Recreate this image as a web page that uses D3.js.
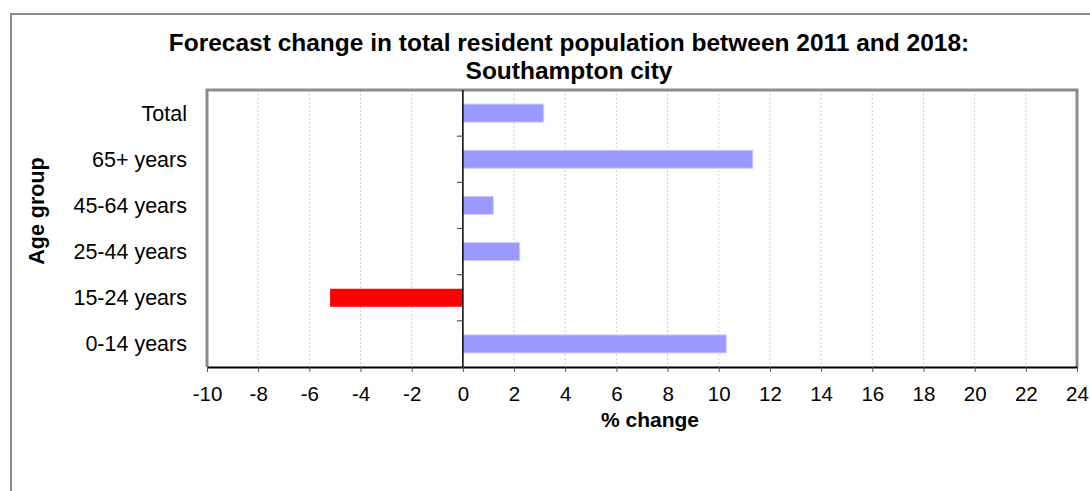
<!DOCTYPE html>
<meta charset="utf-8">
<style>
body { margin: 0; background: #fff; }
svg { font-family: "Liberation Sans", Arial, sans-serif; }
.grid line { stroke: #cfcfcf; stroke-dasharray: 2,2; }
.frame { fill: none; stroke: #8c8c8c; stroke-width: 2; }
.plot-box { fill: none; stroke: #8c8c8c; stroke-width: 3; }
</style>
<svg width="1090" height="491"></svg>
<script src="https://d3js.org/d3.v7.min.js"></script>
<script>

var categories = ["Total", "65+ years", "45-64 years", "25-44 years", "15-24 years", "0-14 years"];
var values = [3.16, 11.33, 1.19, 2.22, -5.19, 10.29];
var xTicks = [-10, -8, -6, -4, -2, 0, 2, 4, 6, 8, 10, 12, 14, 16, 18, 20, 22, 24];
var titleLines = ["Forecast change in total resident population between 2011 and 2018:", "Southampton city"];

var svg = d3.select("svg");

var margin = {left: 207, right: 1077, top: 90, bottom: 367};

var x = d3.scaleLinear()
    .domain([-10, 24])
    .range([margin.left, margin.right]);

var y = d3.scaleBand()
    .domain(categories)
    .range([margin.top, margin.bottom])
    .paddingInner(0.61)
    .paddingOuter(0.305);

// outer chart frame
svg.append("rect")
    .attr("class", "frame")
    .attr("x", 11).attr("y", 14)
    .attr("width", 1100).attr("height", 500);

// grid
svg.append("g")
    .attr("class", "grid")
  .selectAll("line")
  .data(xTicks.filter(function(d) { return d !== 0 && d !== -10 && d !== 24; }))
  .enter().append("line")
    .attr("x1", function(d) { return x(d); })
    .attr("x2", function(d) { return x(d); })
    .attr("y1", margin.top)
    .attr("y2", margin.bottom);

// plot border (left, top, right)
svg.append("path")
    .attr("class", "plot-box")
    .attr("d", "M" + margin.left + "," + margin.bottom + "V" + margin.top + "H" + margin.right + "V" + margin.bottom);

// bars
svg.append("g")
  .selectAll("rect")
  .data(categories)
  .enter().append("rect")
    .attr("x", function(d, i) { return x(Math.min(0, values[i])); })
    .attr("y", function(d) { return y(d); })
    .attr("width", function(d, i) { return Math.abs(x(values[i]) - x(0)); })
    .attr("height", y.bandwidth())
    .attr("fill", function(d, i) { return values[i] < 0 ? "#ff0000" : "#9999ff"; })
    .attr("stroke", function(d, i) { return values[i] < 0 ? "none" : "#ccccff"; });

// zero line with category separator ticks
svg.append("line")
    .attr("x1", x(0)).attr("x2", x(0))
    .attr("y1", margin.top).attr("y2", margin.bottom)
    .attr("stroke", "#000").attr("stroke-width", 1.5);

svg.append("g")
  .selectAll("line")
  .data(categories.slice(1))
  .enter().append("line")
    .attr("x1", x(0) - 6).attr("x2", x(0))
    .attr("y1", function(d) { return y(d) - y.step() * y.paddingInner() / 2; })
    .attr("y2", function(d) { return y(d) - y.step() * y.paddingInner() / 2; })
    .attr("stroke", "#555").attr("stroke-width", 1.2);

// x axis
var xAxis = svg.append("g")
    .attr("transform", "translate(0," + margin.bottom + ")")
    .call(d3.axisBottom(x).tickValues(xTicks).tickFormat(d3.format("d"))
      .tickSize(5).tickSizeOuter(0).tickPadding(14));

xAxis.attr("font-size", null).attr("font-family", null);
xAxis.select(".domain").attr("stroke", "#000").attr("stroke-width", 2);
xAxis.selectAll(".tick line").attr("stroke", "#555");
xAxis.selectAll("text")
    .attr("font-size", 20.5)
    .attr("fill", "#000")
    .text(function(d) { return String(d); });

// category labels
svg.append("g")
  .selectAll("text")
  .data(categories)
  .enter().append("text")
    .attr("x", 187)
    .attr("y", function(d) { return y(d) + y.bandwidth() / 2; })
    .attr("dy", "0.35em")
    .attr("text-anchor", "end")
    .attr("font-size", 21.5)
    .text(function(d) { return d; });

// title
svg.append("g")
  .selectAll("text")
  .data(titleLines)
  .enter().append("text")
    .attr("x", 569)
    .attr("y", function(d, i) { return 51 + i * 28; })
    .attr("text-anchor", "middle")
    .attr("font-size", 24.5)
    .attr("font-weight", "bold")
    .text(function(d) { return d; });

// axis titles
svg.append("text")
    .attr("x", 650)
    .attr("y", 427)
    .attr("text-anchor", "middle")
    .attr("font-size", 21)
    .attr("font-weight", "bold")
    .text("% change");

svg.append("text")
    .attr("transform", "translate(44,211) rotate(-90)")
    .attr("text-anchor", "middle")
    .attr("font-size", 21.5)
    .attr("font-weight", "bold")
    .text("Age group");

</script>
